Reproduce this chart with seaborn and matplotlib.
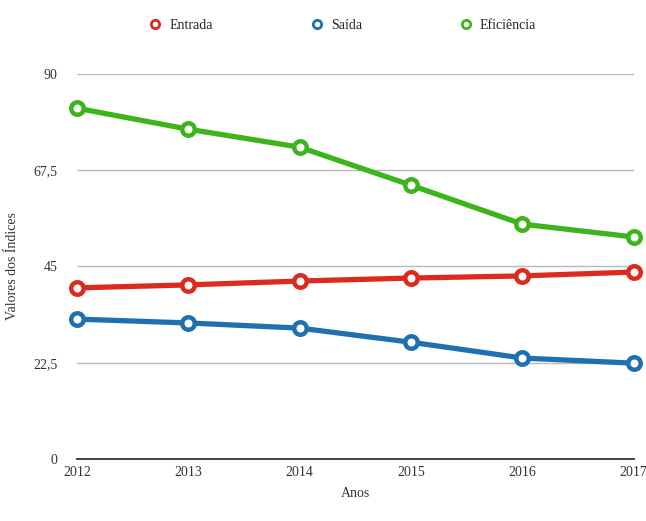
import pandas as pd
import numpy as np
import matplotlib
matplotlib.use("Agg")
import matplotlib.pyplot as plt
import seaborn as sns
from matplotlib.lines import Line2D
from matplotlib.ticker import FuncFormatter

# -------------------------------
# Data
# -------------------------------
anos = [2012, 2013, 2014, 2015, 2016, 2017]
entrada = [40.0, 40.7, 41.6, 42.3, 42.8, 43.7]
saida = [32.7, 31.8, 30.6, 27.3, 23.6, 22.4]
eficiencia = [82.0, 77.1, 72.9, 64.0, 54.9, 51.9]

series = ["Entrada", "Saída", "Eficiência"]
cores = ["#dc2a1e", "#1f70b0", "#3db41b"]

df = pd.DataFrame({
    "Anos": anos * 3,
    "valor": entrada + saida + eficiencia,
    "serie": [s for s in series for _ in anos],
})

# -------------------------------
# Plot
# -------------------------------
sns.set_style("white")
plt.rcParams["font.family"] = ["Liberation Serif", "DejaVu Serif"]

fig = plt.figure(figsize=(6.46, 5.21), dpi=100)
ax = fig.add_axes([0.119, 0.119, 0.862, 0.739])

sns.lineplot(data=df, x="Anos", y="valor", hue="serie", hue_order=series,
             palette=cores, marker="o", markersize=9, markerfacecolor="white",
             markeredgewidth=3.2, linewidth=3.8, legend=False, ax=ax,
             clip_on=False, zorder=3)
for ln, c in zip(ax.lines, cores):
    ln.set_markeredgecolor(c)

ax.set_xlim(2012, 2017)
ax.set_ylim(0, 90)
ax.set_yticks([0, 22.5, 45, 67.5, 90])
ax.yaxis.set_major_formatter(FuncFormatter(lambda v, p: f"{v:g}".replace(".", ",")))
ax.set_xticks(anos)
ax.yaxis.grid(True, color="#b8b8b8", linewidth=1)
ax.xaxis.grid(False)
for s in ["top", "right", "left"]:
    ax.spines[s].set_visible(False)
ax.spines["bottom"].set_color("#333333")
ax.spines["bottom"].set_linewidth(1.3)
ax.tick_params(axis="both", length=0, labelsize=10, colors="#333333")
ax.tick_params(axis="y", pad=14)
ax.tick_params(axis="x", pad=5)
ax.set_xlabel("Anos", fontsize=10, color="#333333", labelpad=6)
ax.set_ylabel("Valores dos Índices", fontsize=10, color="#333333", labelpad=10)

handles = [Line2D([], [], linestyle="none", marker="o", markersize=6,
                  markerfacecolor="white", markeredgecolor=c, markeredgewidth=2)
           for c in cores]
fig.legend(handles, series, loc="center", bbox_to_anchor=(0.53, 0.952), ncol=3,
           frameon=False, fontsize=10, handlelength=1, handletextpad=0.5,
           columnspacing=7)

fig.savefig("out.png", dpi=100)
